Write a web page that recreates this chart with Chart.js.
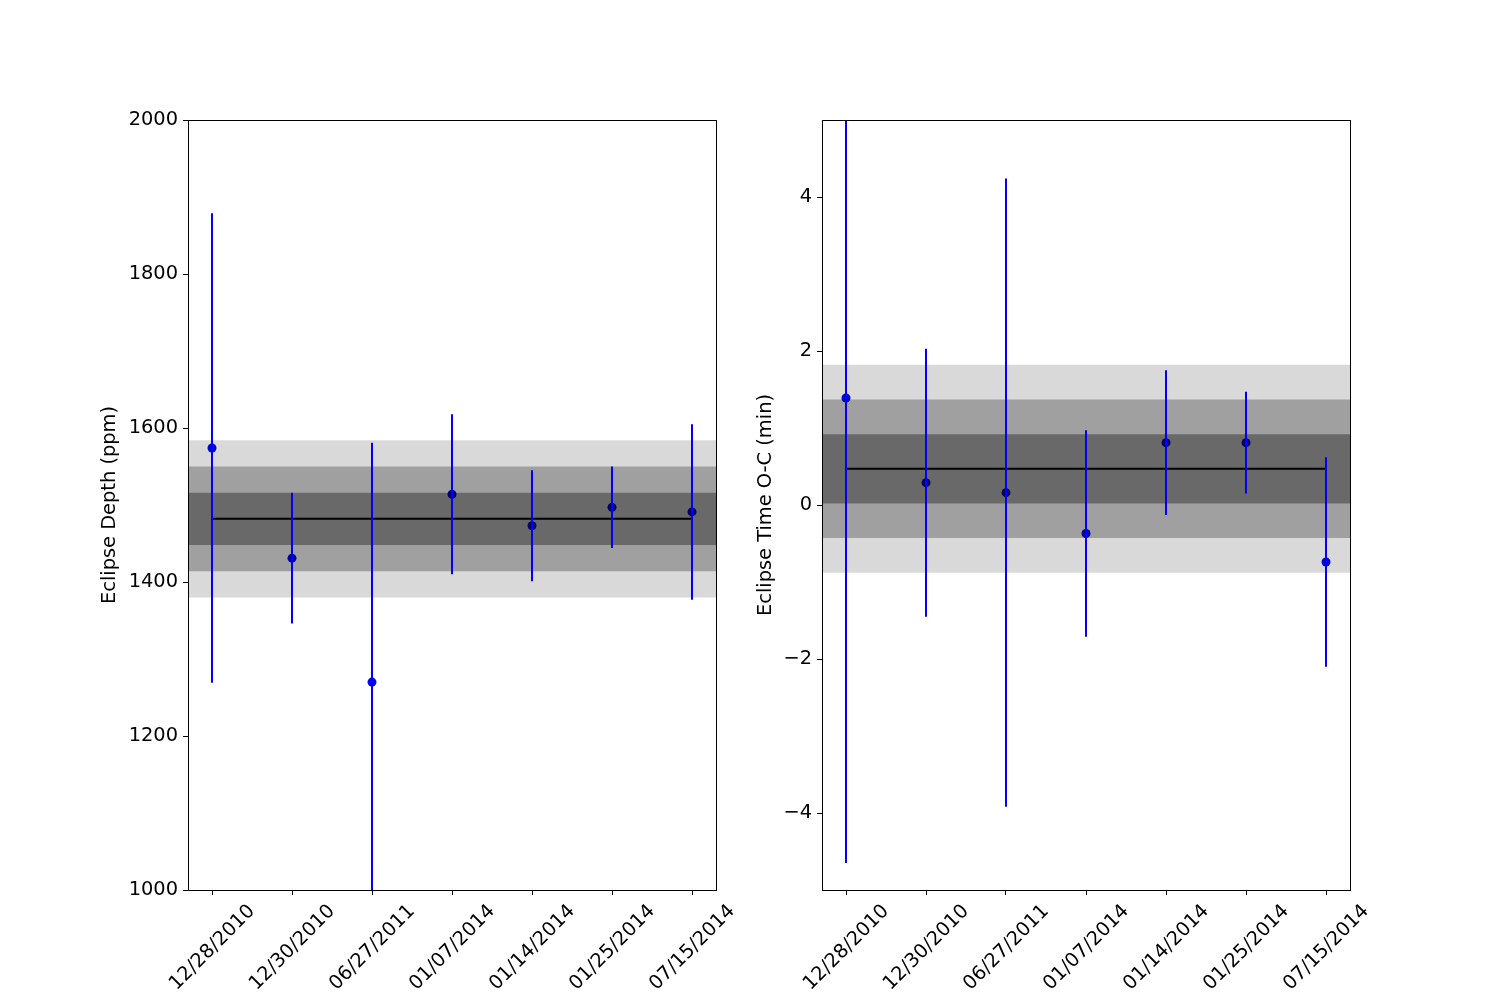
<!DOCTYPE html>
<html>
<head>
<meta charset="utf-8">
<script src="https://cdn.jsdelivr.net/npm/chart.js@4.4.1/dist/chart.umd.min.js"></script>
<style>
  html, body { margin: 0; padding: 0; background: #fff; }
  #wrap { position: relative; width: 1500px; height: 1000px; }
  canvas { position: absolute; top: 0; }
</style>
</head>
<body>
<div id="wrap">
  <canvas id="depth" width="750" height="1000" style="left:0"></canvas>
  <canvas id="timing" width="750" height="1000" style="left:750px"></canvas>
</div>
<script>
// observation dates (x categories)
var dates = ['12/28/2010', '12/30/2010', '06/27/2011', '01/07/2014', '01/14/2014', '01/25/2014', '07/15/2014'];

// eclipse depth (ppm) and 1-sigma errors
var depthVals = [1574, 1431, 1270, 1514, 1473, 1497, 1491];
var depthErrs = [305, 85, 311, 104, 72, 53, 114];
var depthMean = 1482;
var depthSigma = 34;
var depthTicks = [1000, 1200, 1400, 1600, 1800, 2000];

// eclipse time O-C (min) and 1-sigma errors
var timeVals = [1.39, 0.29, 0.16, -0.37, 0.81, 0.81, -0.74];
var timeErrs = [6.04, 1.74, 4.08, 1.34, 0.94, 0.66, 1.36];
var timeMean = 0.47;
var timeSigma = 0.45;
var timeTicks = [-4, -2, 0, 2, 4];

var sigmaLevels = [1, 2, 3];
var bandShades = ['rgba(0,0,0,0.344)', 'rgba(0,0,0,0.263)', 'rgba(0,0,0,0.149)'];

var xMin = -0.3, xMax = 6.3;
var tickFont = { family: 'DejaVu Sans', size: 19.4 };
var titleFont = { family: 'DejaVu Sans', size: 19.4 };

// draws the box around the plot area (like matplotlib spines)
var frame = {
  id: 'frame',
  afterDatasetsDraw: function(chart) {
    var a = chart.chartArea, ctx = chart.ctx;
    var l = Math.round(a.left), t = Math.round(a.top), r = Math.round(a.right), b = Math.round(a.bottom);
    ctx.save();
    ctx.strokeStyle = '#000';
    ctx.lineWidth = 1;
    ctx.strokeRect(l + 0.5, t + 0.5, r - l, b - t);
    ctx.restore();
  }
};

function errorSegments(vals, errs) {
  var pts = [];
  vals.forEach(function(v, i) {
    pts.push({ x: i, y: v - errs[i] });
    pts.push({ x: i, y: v + errs[i] });
    pts.push({ x: i, y: null });
  });
  return pts;
}

function makePanel(id, vals, errs, mean, sigma, yMin, yMax, yTicks, yTitle, padLeft, yWidth, padRight) {
  var datasets = [];

  datasets.push({
    data: errorSegments(vals, errs),
    borderColor: '#0000ff', borderWidth: 2, pointRadius: 0, spanGaps: false, order: 0
  });
  datasets.push({
    data: [{ x: 0, y: mean }, { x: vals.length - 1, y: mean }],
    borderColor: '#000', borderWidth: 2, pointRadius: 0, order: 1
  });
  sigmaLevels.forEach(function(k, i) {
    datasets.push({
      data: [{ x: xMin, y: mean + k * sigma }, { x: xMax, y: mean + k * sigma }],
      fill: { value: mean - k * sigma },
      backgroundColor: bandShades[i],
      borderWidth: 0, pointRadius: 0, order: 2 + i
    });
  });
  datasets.push({
    data: vals.map(function(v, i) { return { x: i, y: v }; }),
    showLine: false, pointRadius: 4.5, pointBorderWidth: 0,
    pointBackgroundColor: '#0000ff', borderColor: '#0000ff', order: 10
  });

  return new Chart(document.getElementById(id), {
    type: 'line',
    data: { datasets: datasets },
    plugins: [frame],
    options: {
      responsive: false,
      animation: false,
      events: [],
      layout: { padding: { left: padLeft, right: padRight, top: 120, bottom: 0 } },
      plugins: { legend: { display: false }, tooltip: { enabled: false } },
      scales: {
        x: {
          type: 'linear', min: xMin, max: xMax,
          afterBuildTicks: function(s) { s.ticks = dates.map(function(d, i) { return { value: i }; }); },
          afterFit: function(s) { s.height = 110; },
          border: { display: false },
          grid: { drawOnChartArea: false, drawTicks: true, tickLength: 5, color: '#000', lineWidth: 1 },
          ticks: {
            autoSkip: false, minRotation: 45, maxRotation: 45, labelOffset: 40, padding: 5,
            color: '#000', font: tickFont,
            callback: function(v) { return dates[Math.round(v)]; }
          }
        },
        y: {
          type: 'linear', min: yMin, max: yMax,
          afterBuildTicks: function(s) { s.ticks = yTicks.map(function(t) { return { value: t }; }); },
          afterFit: function(s) { s.width = yWidth; },
          border: { display: false },
          grid: { drawOnChartArea: false, drawTicks: true, tickLength: 5, color: '#000', lineWidth: 1 },
          ticks: {
            padding: 5, color: '#000', font: tickFont,
            callback: function(v) { return v < 0 ? '\u2212' + Math.abs(v) : String(v); }
          },
          title: { display: true, text: yTitle, color: '#000', font: titleFont, padding: { top: 4, bottom: 4 } }
        }
      }
    }
  });
}

makePanel('depth', depthVals, depthErrs, depthMean, depthSigma, 1000, 2000, depthTicks, 'Eclipse Depth (ppm)', 94, 94, 34);
makePanel('timing', timeVals, timeErrs, timeMean, timeSigma, -5, 5, timeTicks, 'Eclipse Time O-C (min)', 0, 72, 150);
</script>
</body>
</html>
